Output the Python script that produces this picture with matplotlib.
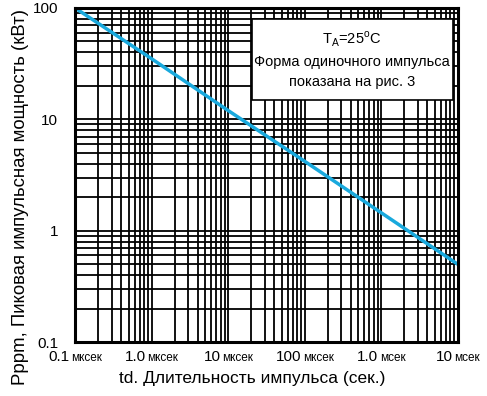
import numpy as np
import matplotlib
matplotlib.use("Agg")
import matplotlib.pyplot as plt
from matplotlib.offsetbox import TextArea, HPacker, AnnotationBbox
from matplotlib.patches import Rectangle

plt.rcParams['font.family'] = ['Liberation Sans', 'DejaVu Sans']

# pulse duration (seconds) and peak pulse power (kW)
td = [1e-7, 1e-6, 1e-5, 1e-4, 1e-3, 1e-2]
ppk = [100, 35, 12, 4.2, 1.45, 0.5]

x_ticks = [1e-7, 1e-6, 1e-5, 1e-4, 1e-3, 1e-2]
x_num = ['0.1', '1.0', '10', '100', '1.0', '10']
x_unit = ['мксек', 'мксек', 'мксек', 'мксек', 'мсек', 'мсек']
y_ticks = [0.1, 1, 10, 100]
y_labels = ['0.1', '1', '10', '100']

fig = plt.figure(figsize=(4.87, 3.96), dpi=100)
ax = fig.add_axes([0.154, 0.136, 0.786, 0.844])
ax.set_xscale('log')
ax.set_yscale('log')
ax.set_xlim(1e-7, 1e-2)
ax.set_ylim(0.1, 100)

ax.grid(True, which='both', color='black', linewidth=1.3)
ax.set_axisbelow(True)
ax.tick_params(which='both', length=0)
ax.set_xticks(x_ticks)
ax.set_xticklabels([])
ax.set_yticks(y_ticks)
ax.set_yticklabels(y_labels, fontsize=11)
ax.tick_params(axis='y', pad=12)
for s in ax.spines.values():
    s.set_linewidth(2.2)
    s.set_zorder(5)

ax.plot(td, ppk, color='#19a9dd', linewidth=2.5, zorder=4)

# tick labels: number larger, unit smaller
for xt, num, unit in zip(x_ticks, x_num, x_unit):
    box = HPacker(children=[TextArea(num, textprops=dict(fontsize=11)),
                            TextArea(unit, textprops=dict(fontsize=8.5))],
                  align='baseline', pad=0, sep=1)
    ab = AnnotationBbox(box, (xt, 0), xycoords=('data', 'axes fraction'),
                        xybox=(0, -6), boxcoords='offset points',
                        box_alignment=(0.5, 1), frameon=False, pad=0,
                        annotation_clip=False)
    ax.add_artist(ab)

fig.text(0.518, 0.025, 'td. Длительность импульса (сек.)', fontsize=12.5,
         ha='center', va='bottom')
fig.text(0.043, 0.503, 'Pppm, Пиковая импульсная мощность (кВт)', fontsize=13.4,
         rotation=90, ha='center', va='center')

# legend box
ax.add_patch(Rectangle((0.462, 0.725), 0.525, 0.242, transform=ax.transAxes,
                       facecolor='white', edgecolor='black', linewidth=1.2,
                       zorder=6))
ax.text(0.724, 0.845, 'T$_\\mathregular{A}$=25$^\\mathregular{o}$C\n'
        'Форма одиночного импульса\nпоказана на рис. 3',
        transform=ax.transAxes, ha='center', va='center', fontsize=10.5,
        linespacing=1.55, zorder=7)

fig.savefig('out.png', dpi=100)
